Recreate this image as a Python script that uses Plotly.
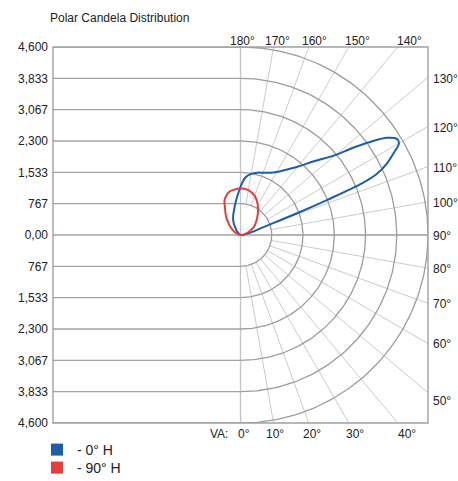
import numpy as np
import plotly.graph_objects as go

# ---------------- data ----------------
MAX_CD = 4600
ring_values = [767, 1533, 2300, 3067, 3833, 4600]
y_tick_values = [4600, 3833, 3067, 2300, 1533, 767, 0, -767, -1533, -2300, -3067, -3833, -4600]
y_tick_labels = ["4,600", "3,833", "3,067", "2,300", "1,533", "767", "0,00",
                 "767", "1,533", "2,300", "3,067", "3,833", "4,600"]
spoke_angles = list(range(0, 181, 10))
top_label_angles = [180, 170, 160, 150, 140]
right_label_angles = [130, 120, 110, 100, 90, 80, 70, 60, 50]
bottom_label_angles = [0, 10, 20, 30, 40]
series_names = ["- 0° H", "- 90° H"]

# 0° H plane (vertical angle from nadir, candela)
blue_angles = [90, 100, 105, 108, 110, 111, 112, 113, 114, 116, 118, 120, 121.5, 123.5, 125.5,
               128, 130, 135, 140, 145, 150, 155, 160, 165, 170, 175, 180, 185, 190, 195,
               200, 205, 210, 215, 225, 235]
blue_cd = [0, 120, 300, 500, 900, 1500, 2300, 3250, 3650, 4000, 4250, 4490, 4500, 4310, 3930,
           3430, 3050, 2550, 2180, 1950, 1780, 1680, 1620, 1580, 1520, 1420, 1180, 940, 760, 620,
           520, 430, 330, 230, 100, 0]

# 90° H plane
red_angles = [90, 100, 110, 120, 130, 140, 150, 160, 170, 180, 190, 195, 200, 205, 210, 215,
              220, 225, 230, 240, 250, 260]
red_cd = [0, 90, 200, 370, 500, 660, 850, 1020, 1115, 1145, 1115, 1090, 1020, 930, 760, 640,
          530, 420, 340, 200, 80, 0]

BLUE = "#1c5ea8"
RED = "#e63c3c"
FONT = "Arial, Liberation Sans, sans-serif"

# ---------------- layout geometry ----------------
W, H = 458, 481
ML, MR, MT, MB = 53, 30, 47, 58
plot_w_px = W - ML - MR
plot_h_px = H - MT - MB


def to_xy(angles, r):
    a = np.radians(np.asarray(angles, dtype=float))
    r = np.asarray(r, dtype=float)
    return r * np.sin(a), -r * np.cos(a)


def pxp(xpx, ypx):
    """page pixel -> paper coords"""
    return (xpx - ML) / plot_w_px, (H - MB - ypx) / plot_h_px


def data_px(x, y):
    """data coords -> page pixels"""
    return ML + (x + MAX_CD) / (2 * MAX_CD) * plot_w_px, H - MB - (y + MAX_CD) / (2 * MAX_CD) * plot_h_px


fig = go.Figure()
shapes = []

# radial spokes (from the first ring to the frame)
for ang in spoke_angles:
    a = np.radians(ang)
    s, c = np.sin(a), -np.cos(a)
    ts = []
    if abs(s) > 1e-9:
        ts.append(MAX_CD / abs(s))
    if abs(c) > 1e-9:
        ts.append(MAX_CD / abs(c))
    t = min(ts)
    r0 = ring_values[0]
    shapes.append(dict(type="line", xref="x", yref="y", x0=r0 * s, y0=r0 * c, x1=t * s, y1=t * c,
                       line=dict(color="#cbcbcb", width=1), layer="below"))

# vertical axis line through origin
shapes.append(dict(type="line", xref="x", yref="y", x0=0, y0=-MAX_CD, x1=0, y1=MAX_CD,
                   line=dict(color="#c4c4c4", width=1.3), layer="below"))

# horizontal candela lines on the left side
for v in y_tick_values:
    x1 = MAX_CD if v == 0 else 0
    shapes.append(dict(type="line", xref="x", yref="y", x0=-MAX_CD, y0=v, x1=x1, y1=v,
                       line=dict(color="#a3a3a3", width=1.4), layer="below"))

# frame
shapes.append(dict(type="rect", xref="paper", yref="paper", x0=0, y0=0, x1=1, y1=1,
                   line=dict(color="#a0a0a0", width=1.4)))

# rings (half circles)
th = np.linspace(0, 180, 181)
for rv in ring_values:
    rx, ry = to_xy(th, np.full_like(th, rv))
    fig.add_trace(go.Scatter(x=rx, y=ry, mode="lines", line=dict(color="#9c9c9c", width=1.3),
                             hoverinfo="skip", showlegend=False))

# curves
bx, by = to_xy(blue_angles, blue_cd)
fig.add_trace(go.Scatter(x=bx, y=by, mode="lines", line=dict(color=BLUE, width=2, shape="spline"),
                         name=series_names[0], showlegend=False))
rx, ry = to_xy(red_angles, red_cd)
fig.add_trace(go.Scatter(x=rx, y=ry, mode="lines", line=dict(color=RED, width=2, shape="spline"),
                         name=series_names[1], showlegend=False))

# legend entries (square swatches), one legend box per row for exact spacing
fig.add_trace(go.Scatter(x=[None], y=[None], mode="markers", name=series_names[0], legend="legend",
                         marker=dict(symbol="square", size=12, color=BLUE)))
fig.add_trace(go.Scatter(x=[None], y=[None], mode="markers", name=series_names[1], legend="legend2",
                         marker=dict(symbol="square", size=12, color=RED)))

# angle labels (positions in page pixels -> paper)
annotations = []
lab_font = dict(family=FONT, size=12, color="#222")
ox, oy = data_px(0, 0)
top_px = MT
bot_px = H - MB
right_px = W - MR
for ang in top_label_angles:
    a = np.radians(ang)
    xl = ox + (oy - top_px + 12) * np.tan(np.pi - a) + 1.5
    xp, yp = pxp(xl, top_px - 6)
    annotations.append(dict(x=xp, y=yp, xref="paper", yref="paper", text=f"{ang}°",
                            showarrow=False, font=lab_font, xanchor="center", yanchor="middle"))
for ang in right_label_angles:
    a = np.radians(ang)
    yl = oy + (right_px - ox) * np.cos(a) / np.sin(a)
    if ang == 50:
        yl += 9
    else:
        yl += 1
    xp, yp = pxp(right_px + 3, yl)
    annotations.append(dict(x=xp, y=yp, xref="paper", yref="paper", text=f"{ang}°",
                            showarrow=False, font=lab_font, xanchor="left", yanchor="middle"))
for ang in bottom_label_angles:
    a = np.radians(ang)
    xl = ox + (bot_px - oy + 12) * np.tan(a) + (3 if ang == 0 else -1)
    xp, yp = pxp(xl, bot_px + 11)
    annotations.append(dict(x=xp, y=yp, xref="paper", yref="paper", text=f"{ang}°",
                            showarrow=False, font=lab_font, xanchor="center", yanchor="middle"))
xp, yp = pxp(ox - 22, bot_px + 11)
annotations.append(dict(x=xp, y=yp, xref="paper", yref="paper", text="VA:",
                        showarrow=False, font=lab_font, xanchor="center", yanchor="middle"))

leg_font = dict(family=FONT, size=14, color="#222")
l1x, l1y = pxp(37, 434)
l2x, l2y = pxp(37, 452)

fig.update_layout(
    width=W, height=H,
    margin=dict(l=ML, r=MR, t=MT, b=MB, autoexpand=False),
    paper_bgcolor="white", plot_bgcolor="white",
    title=dict(text="Polar Candela Distribution", x=50 / W, xref="container", xanchor="left",
               y=1 - 18 / H, yref="container", yanchor="middle",
               font=dict(family=FONT, size=12, color="#222")),
    xaxis=dict(range=[-MAX_CD, MAX_CD], visible=False, fixedrange=True, automargin=False),
    yaxis=dict(range=[-MAX_CD, MAX_CD], tickvals=y_tick_values, ticktext=y_tick_labels,
               showgrid=False, zeroline=False, showline=False, ticks="",
               ticklabelstandoff=4, automargin=False,
               tickfont=dict(family=FONT, size=12, color="#222"), fixedrange=True),
    shapes=shapes,
    annotations=annotations,
    showlegend=True,
    legend=dict(x=l1x, y=l1y, xanchor="left", yanchor="top", bgcolor="rgba(0,0,0,0)",
                font=leg_font, itemwidth=30),
    legend2=dict(x=l2x, y=l2y, xanchor="left", yanchor="top", bgcolor="rgba(0,0,0,0)",
                 font=leg_font, itemwidth=30),
)

fig.write_html("out.html", config={"displayModeBar": False},
               post_script="document.body.style.margin='0px';document.body.style.overflow='hidden';")
